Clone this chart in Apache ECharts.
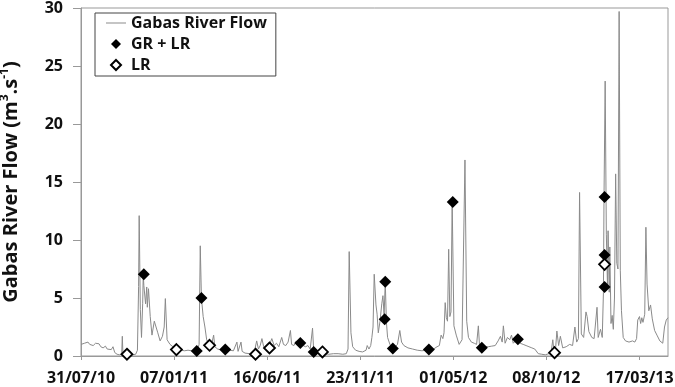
<!DOCTYPE html>
<html>
<head>
<meta charset="utf-8">
<script src="https://cdn.jsdelivr.net/npm/echarts@6/dist/echarts.min.js"></script>
<style>
  html, body { margin: 0; padding: 0; background: #fff; }
  #chart { width: 675px; height: 387px; }
</style>
</head>
<body>
<div id="chart"></div>
<script>
// x values are days since 31/07/10
const startDate = Date.UTC(2010, 6, 31)

// Gabas River daily flow (m3/s)
const flow = [
  [0,1.0],[3,0.9],[6,1.1],[9,0.95],[12,1.2],[15,1.0],[18,1.05],[21,0.9],[25,1.1],[28,1.0],
  [31,1.05],[34,0.8],[38,0.7],[42,0.85],[45,0.6],[48,0.75],[52,0.55],[55,0.8],[58,0.3],[62,0.15],
  [66,0.1],[70,0.2],[71,1.7],[72,0.3],[76,0.15],[82,0.1],[88,0.1],[94,0.15],[97,0.5],[99,6.0],
  [100,12.1],[102,4.0],[104,1.6],[106,4.5],[107,7.0],[108,6.1],[111,4.5],[113,5.95],[114,4.2],[116,5.8],
  [119,3.4],[122,1.8],[126,3.0],[129,3.1],[132,2.0],[136,1.3],[140,1.7],[143,2.5],[145,4.95],[148,1.4],
  [153,1.0],[158,0.8],[162,0.7],[166,0.55],[172,0.5],[178,0.45],[184,0.5],[190,0.45],[196,0.4],[200,0.5],
  [203,1.0],[205,9.5],[207,5.0],[210,3.4],[213,2.5],[216,1.4],[220,1.0],[224,0.9],[228,1.8],[230,0.8],
  [235,0.6],[242,0.5],[248,0.55],[255,0.5],[262,0.45],[268,1.2],[270,0.4],[275,1.2],[277,0.4],[282,0.25],
  [290,0.2],[297,0.15],[300,0.3],[302,1.3],[305,0.6],[308,0.9],[311,1.5],[314,0.8],[318,0.6],[322,0.7],
  [328,1.5],[332,0.9],[336,1.1],[340,0.8],[345,1.6],[348,1.0],[352,0.9],[356,1.2],[360,2.2],[362,1.0],
  [366,0.9],[370,1.3],[374,0.9],[377,1.1],[382,0.9],[386,0.8],[390,0.9],[394,0.6],[398,2.4],[400,0.4],
  [404,0.25],[410,0.2],[418,0.2],[426,0.15],[434,0.2],[442,0.2],[450,0.15],[456,0.2],[459,0.6],[461,9.0],
  [464,2.0],[467,0.8],[472,0.5],[478,0.4],[484,0.35],[490,0.5],[492,0.9],[495,0.6],[498,0.9],[500,1.6],
  [502,2.5],[504,7.05],[507,4.4],[509,3.6],[511,2.0],[514,3.0],[517,4.5],[519,5.2],[521,3.5],[523,6.4],
  [525,2.9],[527,1.6],[531,1.0],[536,0.7],[540,0.8],[544,1.0],[548,2.2],[551,1.2],[555,0.9],[562,0.7],
  [570,0.6],[578,0.5],[586,0.45],[594,0.5],[600,0.5],[606,0.6],[612,0.8],[616,0.9],[619,1.8],[622,1.5],
  [624,2.0],[626,4.6],[628,3.3],[630,3.0],[632,9.2],[634,3.4],[636,3.8],[638,13.4],[641,2.6],[645,1.8],
  [650,1.0],[655,1.4],[658,1.5],[660,16.9],[663,3.0],[666,1.6],[671,1.2],[676,1.1],[680,1.0],[683,2.6],
  [685,0.9],[689,0.7],[694,0.8],[700,0.8],[706,0.85],[712,0.9],[717,1.3],[721,1.7],[724,1.2],[726,2.6],
  [729,1.1],[733,1.6],[737,1.4],[740,1.8],[743,1.1],[747,1.3],[751,1.4],[755,1.1],[760,1.0],[765,0.9],
  [770,0.8],[775,0.7],[780,0.6],[786,0.2],[792,0.15],[798,0.1],[804,0.2],[808,0.3],[811,1.4],[813,0.4],
  [816,0.8],[818,2.15],[821,0.9],[824,1.7],[828,0.7],[834,0.8],[840,1.0],[845,0.9],[849,2.5],[852,1.2],
  [855,1.5],[857,14.1],[860,1.9],[864,1.6],[868,3.8],[870,3.4],[873,2.1],[878,1.6],[882,1.5],[887,4.2],
  [889,1.6],[893,2.3],[896,1.6],[898,5.5],[899,13.7],[901,23.7],[903,10.5],[905,6.0],[906,10.8],[908,5.5],
  [909,9.4],[911,2.8],[913,3.5],[915,2.3],[917,5.0],[919,15.7],[921,8.0],[923,7.5],[925,29.7],[927,7.4],
  [929,3.9],[932,1.6],[936,1.3],[942,1.2],[948,1.3],[952,1.2],[955,1.5],[957,3.1],[960,3.4],[962,2.8],
  [964,3.3],[966,2.9],[969,3.6],[971,11.1],[973,6.2],[976,3.9],[979,4.4],[982,3.2],[986,2.2],[990,1.8],
  [995,1.3],[1000,1.1],[1003,2.5],[1006,3.1],[1009,3.3]
]

// sampling campaigns
const grlrDays = [108, 199, 207, 248, 377, 400, 522, 523, 536, 598, 639, 689, 751, 900, 900, 900]
const grlrFlow = [7.04, 0.43, 5.0, 0.55, 1.12, 0.35, 3.16, 6.4, 0.64, 0.55, 13.28, 0.72, 1.44, 13.7, 8.7, 5.95]

const lrDays = [79, 164, 221, 300, 324, 415, 814, 900]
const lrFlow = [0.15, 0.55, 0.92, 0.15, 0.69, 0.35, 0.29, 7.9]

const pad = n => (n < 10 ? '0' : '') + n
const dayLabel = function(d) {
  const dt = new Date(startDate + d * 86400000)
  return pad(dt.getUTCDate()) + '/' + pad(dt.getUTCMonth() + 1) + '/' + pad(dt.getUTCFullYear() % 100)
}

const font = 'Open Sans'
// path icons so the legend keeps their shape
const diamondIcon = 'path://M5,0L10,5L5,10L0,5Z'
const lineIcon = 'path://M0,0L20,0L20,1L0,1Z'

const chart = echarts.init(document.getElementById('chart'))
chart.setOption({
  animation: false,
  textStyle: { fontFamily: font },
  grid: {
    left: 81, right: 7, top: 8, bottom: 31,
    outerBoundsMode: 'none',
    show: true,
    borderColor: '#999',
    borderWidth: 1,
  },

  legend: {
    orient: 'vertical',
    left: 95,
    top: 13,
    padding: [2, 9, 3, 11],
    borderColor: '#444',
    borderWidth: 1,
    itemWidth: 20,
    itemHeight: 10,
    itemGap: 5,
    symbolKeepAspect: true,
    textStyle: {
      fontFamily: font,
      fontSize: 16,
      fontWeight: 'bold',
      color: '#111',
      lineHeight: 16,
    },
    data: [
      { name: 'Gabas River Flow', icon: lineIcon, itemStyle: { color: '#8a8a8a', borderWidth: 0 } },
      { name: 'GR + LR', icon: diamondIcon },
      { name: 'LR', icon: diamondIcon },
    ],
  },

  xAxis: {
    type: 'value',
    min: 0,
    max: 1009,
    interval: 160,
    splitLine: { show: false },
    axisLine: { lineStyle: { color: '#999' } },
    axisTick: { length: 4, lineStyle: { color: '#999' } },
    axisLabel: {
      margin: 14,
      fontFamily: font,
      fontSize: 16,
      fontWeight: 'bold',
      color: '#111',
      showMaxLabel: false,
      formatter: dayLabel,
    },
  },

  yAxis: {
    type: 'value',
    min: 0,
    max: 30,
    interval: 5,
    splitLine: { show: false },
    axisLine: { show: true, lineStyle: { color: '#999' } },
    axisTick: { show: true, length: 8, lineStyle: { color: '#999' } },
    axisLabel: {
      margin: 18,
      fontFamily: font,
      fontSize: 16,
      fontWeight: 'bold',
      color: '#111',
    },
    name: '{b|Gabas River Flow (m}{s|3}{b|.s}{s|-1}{b|)}',
    nameLocation: 'middle',
    nameGap: 58,
    nameTextStyle: {
      rich: {
        b: { fontFamily: font, fontSize: 20, fontWeight: 'bold', color: '#111', lineHeight: 24 },
        s: { fontFamily: font, fontSize: 12, fontWeight: 'bold', color: '#111', lineHeight: 12, verticalAlign: 'top' },
      },
    },
  },

  series: [
    {
      name: 'Gabas River Flow',
      type: 'line',
      data: flow,
      symbol: 'none',
      lineStyle: { color: '#8a8a8a', width: 1 },
      itemStyle: { color: '#8a8a8a' },
      z: 1,
    },
    {
      name: 'GR + LR',
      type: 'scatter',
      data: grlrDays.map((d, i) => [d, grlrFlow[i]]),
      symbol: 'diamond',
      symbolSize: 12,
      itemStyle: { color: '#000', opacity: 1 },
      z: 3,
    },
    {
      name: 'LR',
      type: 'scatter',
      data: lrDays.map((d, i) => [d, lrFlow[i]]),
      symbol: 'diamond',
      symbolSize: 11,
      itemStyle: { color: '#fff', borderColor: '#000', borderWidth: 1.8, opacity: 1 },
      z: 4,
    },
  ],
})
</script>
</body>
</html>
